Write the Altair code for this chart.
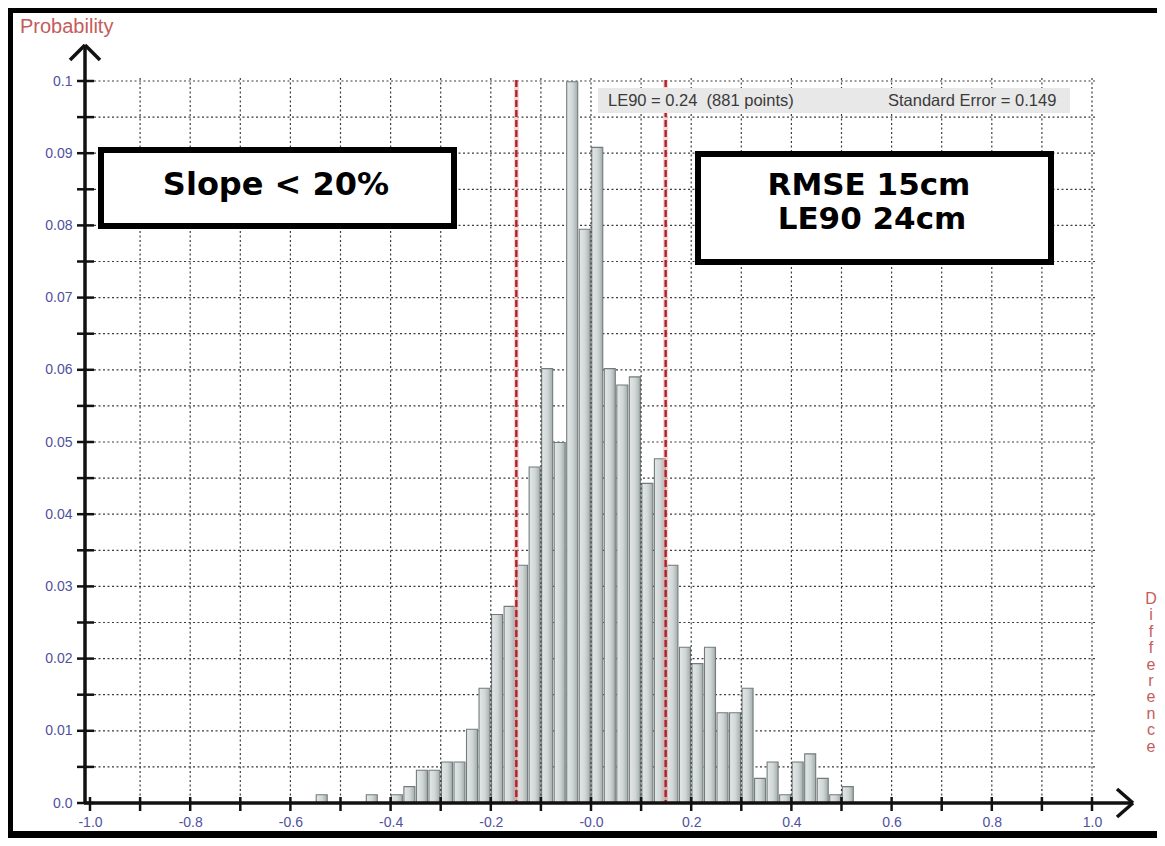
import altair as alt
import pandas as pd

# ---------------- data ----------------
bin_centers = [-0.5375, -0.4375, -0.3875, -0.3625, -0.3375, -0.3125, -0.2875, -0.2625,
               -0.2375, -0.2125, -0.1875, -0.1625, -0.1375, -0.1125, -0.0875, -0.0625,
               -0.0375, -0.0125, 0.0125, 0.0375, 0.0625, 0.0875, 0.1125, 0.1375,
               0.1625, 0.1875, 0.2125, 0.2375, 0.2625, 0.2875, 0.3125, 0.3375,
               0.3625, 0.3875, 0.4125, 0.4375, 0.4625, 0.4875, 0.5125]
probabilities = [0.00114, 0.00114, 0.00114, 0.00227, 0.00454, 0.00454, 0.00568, 0.00568,
                 0.01022, 0.01589, 0.02611, 0.02724, 0.03292, 0.04654, 0.06016, 0.04994,
                 0.09989, 0.07946, 0.09081, 0.06016, 0.05789, 0.05902, 0.04427, 0.04767,
                 0.03292, 0.02157, 0.01930, 0.02157, 0.01249, 0.01249, 0.01589, 0.00341,
                 0.00568, 0.00114, 0.00568, 0.00681, 0.00341, 0.00114, 0.00227]

grid_x = [-0.9, -0.8, -0.7, -0.6, -0.5, -0.4, -0.3, -0.2, -0.1, 0.0,
          0.1, 0.2, 0.3, 0.4, 0.5, 0.6, 0.7, 0.8, 0.9, 1.0]
grid_y = [0.005, 0.01, 0.015, 0.02, 0.025, 0.03, 0.035, 0.04, 0.045, 0.05,
          0.055, 0.06, 0.065, 0.07, 0.075, 0.08, 0.085, 0.09, 0.095, 0.1]
x_tick_values = [-1.0] + grid_x
y_tick_values = [0.0] + grid_y
x_label_values = [-1.0, -0.8, -0.6, -0.4, -0.2, 0.0, 0.2, 0.4, 0.6, 0.8, 1.0]
y_label_values = [0.0, 0.01, 0.02, 0.03, 0.04, 0.05, 0.06, 0.07, 0.08, 0.09, 0.1]
limit_lines = [-0.149, 0.149]

info_left = "LE90 = 0.24\u00a0\u00a0(881 points)"
info_right = "Standard Error = 0.149"
box1_text = "Slope < 20%"
box2_lines = ["RMSE 15cm", "LE90 24cm"]
y_title = "Probability"
x_title = "Difference"

# ---------------- tables ----------------
bars_df = pd.DataFrame({"center": bin_centers, "prob": probabilities})
gx_df = pd.DataFrame({"gx": grid_x})
gy_df = pd.DataFrame({"gy": grid_y})
tx_df = pd.DataFrame({"gx": x_tick_values})
ty_df = pd.DataFrame({"gy": y_tick_values})
lim_df = pd.DataFrame({"gx": limit_lines})
title_df = pd.DataFrame({"ch": list(x_title), "row": list(range(len(x_title)))})
one = alt.Data(values=[{"k": 1}])

W, H = 1012, 722
PB = 35  # bottom padding
xs = alt.Scale(domain=[-1.0, 1.0], nice=False, zero=False)
ys = alt.Scale(domain=[0.0, 0.1], nice=False, zero=False)

LABEL_COLOR = "#50509e"
x_axis = alt.Axis(values=x_label_values, domain=False, ticks=False, grid=False,
                  labelExpr="datum.value == 0 ? '-0.0' : (datum.value < 0 ? '-' : '') + format(abs(datum.value), '.1f')",
                  labelFont="Liberation Sans", labelFontSize=14, labelColor=LABEL_COLOR,
                  labelPadding=12, labelFlush=False, labelOverlap=False, title=None)
y_axis = alt.Axis(values=y_label_values, domain=False, ticks=False, grid=False,
                  labelExpr="datum.value == 0 ? '0.0' : format(datum.value, '.2~f')",
                  labelFont="Liberation Sans", labelFontSize=14, labelColor=LABEL_COLOR,
                  labelPadding=13, labelOverlap=False, title=None)

GRID = dict(color="#3c3c3c", strokeWidth=1.2, strokeDash=[2, 2.5])

# horizontal grid (under bars)
hgrid = alt.Chart(gy_df).mark_rule(**GRID).encode(
    y=alt.Y("gy:Q", scale=ys, axis=y_axis),
    x=alt.value(0), x2=alt.value(W))

# bars
bars = alt.Chart(bars_df).mark_bar(
    size=11,
    fill={"gradient": "linear", "x1": 0, "x2": 1, "y1": 0, "y2": 0,
          "stops": [{"offset": 0, "color": "#e3e7e7"},
                    {"offset": 0.55, "color": "#d0d6d6"},
                    {"offset": 1, "color": "#a3abab"}]},
    stroke="#737b7b", strokeWidth=1.1
).encode(
    x=alt.X("center:Q", scale=xs, axis=x_axis),
    y=alt.Y("prob:Q", scale=ys, axis=y_axis))

# vertical grid (over bars)
vgrid = alt.Chart(gx_df).mark_rule(**GRID).encode(
    x=alt.X("gx:Q", scale=xs, axis=x_axis),
    y=alt.value(-3), y2=alt.value(H))

# red limit lines with a pale halo
limits_halo = alt.Chart(lim_df).mark_rule(color="#f2b8b8", strokeWidth=5, opacity=0.6).encode(
    x=alt.X("gx:Q", scale=xs, axis=x_axis),
    y=alt.value(-1), y2=alt.value(H))
limits = alt.Chart(lim_df).mark_rule(color="#ad2228", strokeWidth=2.4, strokeDash=[7, 3]).encode(
    x=alt.X("gx:Q", scale=xs, axis=x_axis),
    y=alt.value(-1), y2=alt.value(H))

# info bar
info_bg = alt.Chart(one).mark_rect(fill="#e8e8e8").encode(
    x=alt.value(513), x2=alt.value(985), y=alt.value(7), y2=alt.value(32))
info_t1 = alt.Chart(one).mark_text(align="left", baseline="middle", font="Liberation Sans",
                                   fontSize=16.5, color="#3a3a3a").encode(
    x=alt.value(523), y=alt.value(20), text=alt.value(info_left))
info_t2 = alt.Chart(one).mark_text(align="left", baseline="middle", font="Liberation Sans",
                                   fontSize=16.5, color="#3a3a3a").encode(
    x=alt.value(803), y=alt.value(20), text=alt.value(info_right))

# annotation boxes
BOXTXT = dict(align="center", baseline="middle", font="DejaVu Sans",
              fontWeight="bold", color="black")
box1 = alt.Chart(one).mark_rect(fill="white", stroke="black", strokeWidth=6).encode(
    x=alt.value(16), x2=alt.value(369), y=alt.value(69), y2=alt.value(145))
box1_t = alt.Chart(one).mark_text(fontSize=32, **BOXTXT).encode(
    x=alt.value(191), y=alt.value(104), text=alt.value(box1_text))
box2 = alt.Chart(one).mark_rect(fill="white", stroke="black", strokeWidth=6).encode(
    x=alt.value(613), x2=alt.value(966), y=alt.value(73), y2=alt.value(181))
box2_t1 = alt.Chart(one).mark_text(fontSize=31, **BOXTXT).encode(
    x=alt.value(784), y=alt.value(105), text=alt.value(box2_lines[0]))
box2_t2 = alt.Chart(one).mark_text(fontSize=31, **BOXTXT).encode(
    x=alt.value(787), y=alt.value(139), text=alt.value(box2_lines[1]))

# axis lines, ticks and arrows
AX = dict(color="#111111", strokeWidth=3.5)
yline = alt.Chart(one).mark_rule(**AX).encode(x=alt.value(0), y=alt.value(-36), y2=alt.value(H + 1))
ya1 = alt.Chart(one).mark_rule(**AX).encode(x=alt.value(0), y=alt.value(-36), x2=alt.value(-15), y2=alt.value(-21))
ya2 = alt.Chart(one).mark_rule(**AX).encode(x=alt.value(0), y=alt.value(-36), x2=alt.value(15), y2=alt.value(-21))
xline = alt.Chart(one).mark_rule(**AX).encode(y=alt.value(H), x=alt.value(-1), x2=alt.value(1048))
xa1 = alt.Chart(one).mark_rule(**AX).encode(x=alt.value(1048), y=alt.value(H), x2=alt.value(1032), y2=alt.value(H - 14))
xa2 = alt.Chart(one).mark_rule(**AX).encode(x=alt.value(1048), y=alt.value(H), x2=alt.value(1032), y2=alt.value(H + 14))
xticks = alt.Chart(tx_df).mark_rule(color="#111111", strokeWidth=2.5).encode(
    x=alt.X("gx:Q", scale=xs, axis=x_axis), y=alt.value(H - 6), y2=alt.value(H + 8))
yticks = alt.Chart(ty_df).mark_rule(color="#111111", strokeWidth=2.5).encode(
    y=alt.Y("gy:Q", scale=ys, axis=y_axis), x=alt.value(-8), x2=alt.value(9))

# axis titles
ytitle = alt.Chart(one).mark_text(align="left", baseline="middle", font="Liberation Sans",
                                  fontSize=20, color="#c45c5c").encode(
    x=alt.value(-65), y=alt.value(-54), text=alt.value(y_title))
# vertical stacked letters of the x title, one letter per line
xtitle = alt.Chart(title_df).transform_calculate(
    py="518 + datum.row * 16.4"
).mark_text(align="center", baseline="middle", font="Liberation Sans",
            fontSize=16, color="#c45c5c").encode(
    x=alt.value(1066), y=alt.Y("py:Q", scale=None, axis=None), text="ch:N")

# picture frame
FR = dict(color="#000000")
frame_l = alt.Chart(one).mark_rule(strokeWidth=5, **FR).encode(x=alt.value(-74.5), y=alt.value(-73), y2=alt.value(H + PB))
frame_t = alt.Chart(one).mark_rule(strokeWidth=5, **FR).encode(y=alt.value(-70.5), x=alt.value(-77), x2=alt.value(1080))
frame_b = alt.Chart(one).mark_rule(strokeWidth=7, **FR).encode(y=alt.value(H + PB - 3.5), x=alt.value(-77), x2=alt.value(1080))

chart = alt.layer(
    hgrid, bars, vgrid, limits_halo, limits, info_bg, info_t1, info_t2,
    box1, box1_t, box2, box2_t1, box2_t2,
    yline, ya1, ya2, xline, xa1, xa2, xticks, yticks,
    ytitle, xtitle, frame_l, frame_t, frame_b
).properties(
    width=W, height=H,
    autosize=alt.AutoSizeParams(type="none"),
    padding={"left": 77, "top": 73, "right": 60, "bottom": PB},
    background="white"
).configure_view(strokeWidth=0)

chart.save("out.html", embed_options={"renderer": "svg", "actions": False})
